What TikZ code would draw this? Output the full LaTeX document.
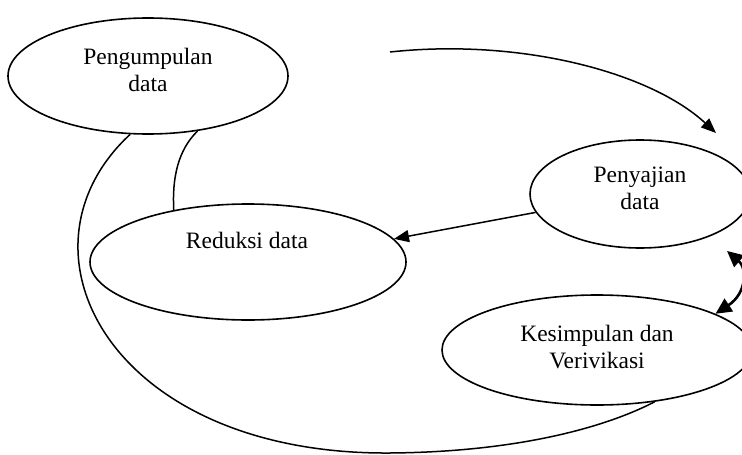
\documentclass[tikz,border=0pt]{standalone}
\usepackage{fontspec}
\setmainfont{Liberation Serif}
\usetikzlibrary{shapes.geometric,arrows.meta}
\begin{document}
\begin{tikzpicture}[x=1pt,y=-1pt,
  ell/.style={draw, ellipse, line width=1.6pt, inner sep=0pt},
  lbl/.style={align=center, font=\fontsize{23.5}{27}\selectfont, inner sep=0pt},
  conn/.style={line width=1.5pt},
  arr/.style={conn, -{Triangle[length=15pt,width=12pt]}},
  dbl/.style={line width=2.6pt, {Triangle[length=16pt,width=15pt]}-{Triangle[length=16pt,width=15pt]}}]
\clip (0,0) rectangle (742,455);
% ellipses
\node[ell, minimum width=280pt, minimum height=116pt] (e1) at (148,76) {};
\node[ell, minimum width=220pt, minimum height=108pt] (e2) at (640,194) {};
\node[ell, minimum width=316pt, minimum height=116pt] (e3) at (248,262) {};
\node[ell, minimum width=310pt, minimum height=110pt] (e4) at (597,350) {};
% labels
\node[lbl] (t1) at (148,70) {Pengumpulan\\data};
\node[lbl] (t2) at (640,188) {Penyajian\\data};
\node[lbl] (t3) at (247,240) {Reduksi data};
\node[lbl] (t4) at (597,347) {Kesimpulan dan\\Verivikasi};
% free ends
\coordinate (as) at (390,52);
\coordinate (ae) at (716,133);
\coordinate (ct) at (727,251);
% connectors
\draw[arr] (as) .. controls (520,38) and (650,72) .. (ae);
\draw[arr] (e2.190) -- (e3.9);
\draw[conn] (e1.-48) .. controls (178,150) and (172,178) .. (e3.145);
\draw[conn] (e1.-107) .. controls (5,250) and (110,455) .. (390,453)
  .. controls (510,452) and (600,430) .. (e4.-42);
\draw[dbl] (ct) .. controls (747,268) and (747,293) .. (e4.17);
\end{tikzpicture}
\end{document}
